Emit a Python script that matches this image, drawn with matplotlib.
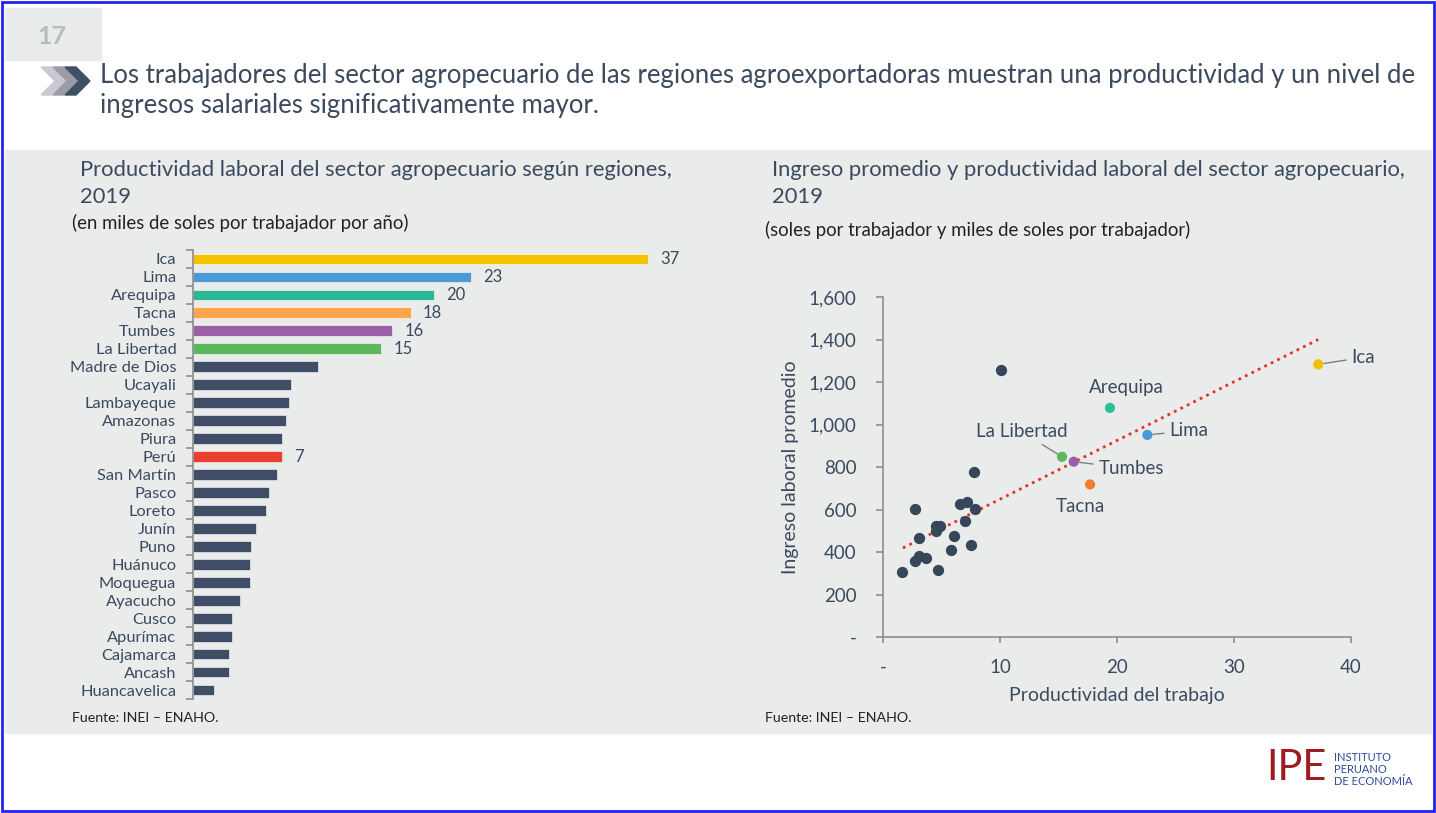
import numpy as np
import matplotlib.pyplot as plt
from matplotlib.patches import Rectangle, Polygon
from matplotlib.ticker import FuncFormatter

plt.rcParams['font.family'] = ['Lato', 'DejaVu Sans']

# --- datos: productividad por region (miles de soles por trabajador) ---
regiones = ['Ica', 'Lima', 'Arequipa', 'Tacna', 'Tumbes', 'La Libertad',
            'Madre de Dios', 'Ucayali', 'Lambayeque', 'Amazonas', 'Piura',
            'Perú', 'San Martín', 'Pasco', 'Loreto', 'Junín', 'Puno',
            'Huánuco', 'Moquegua', 'Ayacucho', 'Cusco', 'Apurímac',
            'Cajamarca', 'Ancash', 'Huancavelica']
productividad = [37.0, 22.6, 19.6, 17.7, 16.2, 15.3, 10.2, 8.0, 7.8, 7.6,
                 7.2, 7.2, 6.8, 6.2, 5.9, 5.1, 4.7, 4.6, 4.6, 3.8, 3.2,
                 3.2, 2.9, 2.9, 1.7]
con_etiqueta = ['Ica', 'Lima', 'Arequipa', 'Tacna', 'Tumbes', 'La Libertad', 'Perú']

# --- datos: ingreso vs productividad ---
dest_nombres = ['Ica', 'Arequipa', 'Lima', 'La Libertad', 'Tumbes', 'Tacna']
dest_prod = [37.2, 19.4, 22.6, 15.3, 16.3, 17.7]
dest_ingreso = [1283, 1078, 951, 848, 825, 718]
otros_prod = [10.1, 7.75, 2.75, 6.6, 7.2, 7.9, 7.05, 4.5, 4.9, 4.5, 6.1,
              3.1, 5.8, 7.5, 3.1, 3.7, 2.75, 1.6, 4.7]
otros_ingreso = [1255, 776, 604, 624, 637, 604, 546, 523, 523, 498, 474,
                 465, 410, 432, 380, 374, 357, 308, 316]
tendencia_x = [1.7, 37.2]
tendencia_y = [419, 1400]

OSCURO = '#3f4e66'
TEXTO = '#3b4a5e'
GRIS = '#8c8c8c'
FONDO = '#e9ecea'
col_region = {'Ica': '#f5c400', 'Lima': '#4c9bd6', 'Arequipa': '#2fb896',
              'Tacna': '#ffa64d', 'Tumbes': '#9b5fa8', 'La Libertad': '#5cb85c',
              'Perú': '#e8402f'}
col_punto = {'Ica': '#f0c000', 'Arequipa': '#2bbf9a', 'Lima': '#4a9ad8',
             'La Libertad': '#5cb85c', 'Tumbes': '#9b5fa8', 'Tacna': '#f08030'}

W, H = 1436, 813
fig = plt.figure(figsize=(W / 100, H / 100), dpi=100)
fig.patch.set_facecolor('white')


def fx(x):
    return x / W


def fy(y):
    return 1 - y / H


# fondo gris y marco
fig.patches.append(Rectangle((fx(5), fy(733)), fx(1426), (733 - 150) / H,
                             transform=fig.transFigure, color=FONDO, zorder=-10))
fig.patches.append(Rectangle((fx(2), fy(811)), fx(1432), 809 / H, transform=fig.transFigure,
                             fill=False, edgecolor='#2323f0', lw=2, zorder=5))
fig.patches.append(Rectangle((fx(5), fy(60)), fx(96), 52 / H,
                             transform=fig.transFigure, color=FONDO, zorder=-10))
fig.text(fx(52), fy(36), '17', fontsize=18, fontweight='bold', color='#b9bcbc',
         ha='center', va='center')

# chevrons
for x0, c in [(41, '#c9c9d1'), (53, '#9c9ca9'), (65, '#3f5064')]:
    pts = [(x0, 67), (x0 + 11, 67), (x0 + 25, 81), (x0 + 11, 95), (x0, 95), (x0 + 14, 81)]
    fig.patches.append(Polygon([(fx(a), fy(b)) for a, b in pts], closed=True,
                               transform=fig.transFigure, color=c, zorder=2))

fig.text(fx(100), fy(75), 'Los trabajadores del sector agropecuario de las regiones agroexportadoras '
         'muestran una productividad y un nivel de', fontsize=18.5, color=TEXTO, va='center')
fig.text(fx(100), fy(105), 'ingresos salariales significativamente mayor.',
         fontsize=18.5, color=TEXTO, va='center')

# titulos de paneles
fig.text(fx(80), fy(170), 'Productividad laboral del sector agropecuario según regiones,',
         fontsize=15.8, color=TEXTO, va='center')
fig.text(fx(80), fy(197), '2019', fontsize=15.8, color=TEXTO, va='center')
fig.text(fx(72), fy(223), '(en miles de soles por trabajador por año)',
         fontsize=13.4, color='#222222', va='center')
fig.text(fx(772), fy(170), 'Ingreso promedio y productividad laboral del sector agropecuario,',
         fontsize=15.8, color=TEXTO, va='center')
fig.text(fx(772), fy(197), '2019', fontsize=15.8, color=TEXTO, va='center')
fig.text(fx(765), fy(230), '(soles por trabajador y miles de soles por trabajador)',
         fontsize=13.4, color='#222222', va='center')
fig.text(fx(72), fy(718), 'Fuente: INEI – ENAHO.', fontsize=10.2, color='#222222', va='center')
fig.text(fx(765), fy(718), 'Fuente: INEI – ENAHO.', fontsize=10.2, color='#222222', va='center')

# --- barras ---
ax1 = fig.add_axes([fx(193), fy(699), (685 - 193) / W, (699 - 250) / H])
ax1.set_facecolor('none')
y = np.arange(len(regiones))
colores = [col_region.get(r, OSCURO) for r in regiones]
ax1.barh(y, productividad, height=0.6, color=colores, edgecolor='white', linewidth=0.4)
for yi, r, v in zip(y, regiones, productividad):
    if r in con_etiqueta:
        ax1.text(v + 1.0, yi, f'{round(v):d}', va='center', ha='left',
                 fontsize=12, color=TEXTO)
ax1.set_xlim(0, 40)
ax1.set_ylim(len(regiones) - 0.5, -0.5)
ax1.set_yticks(y)
ax1.set_yticklabels(regiones, fontsize=11.8, color=TEXTO)
ax1.set_yticks(np.arange(len(regiones) + 1) - 0.5, minor=True)
ax1.tick_params(axis='y', which='major', length=0, pad=12)
ax1.tick_params(axis='y', which='minor', length=5, color=GRIS, width=1.2)
ax1.set_xticks([])
for s in ['top', 'right', 'bottom']:
    ax1.spines[s].set_visible(False)
ax1.spines['left'].set_color(GRIS)
ax1.spines['left'].set_linewidth(1.2)

# --- dispersion ---
ax2 = fig.add_axes([fx(883), fy(637), (1351 - 883) / W, (637 - 297) / H])
ax2.set_facecolor('none')
ax2.plot(tendencia_x, tendencia_y, color='#e8302a', lw=2, linestyle=(0, (1, 1.6)), zorder=2)
ax2.scatter(otros_prod, otros_ingreso, s=66, color='#36475a', zorder=3, linewidths=0)
ax2.scatter(dest_prod, dest_ingreso, s=54, color=[col_punto[n] for n in dest_nombres],
            zorder=4, linewidths=0)

ptx = dict(zip(dest_nombres, zip(dest_prod, dest_ingreso)))
lead = dict(arrowstyle='-', color='#7f7f7f', lw=1, shrinkA=2, shrinkB=4)
# (nombre, offset en puntos, alineacion, con linea)
etiquetas = [('Ica', (24, 5), 'left', True),
             ('Lima', (16, 3), 'left', True),
             ('Arequipa', (12, 15), 'center', False),
             ('La Libertad', (-29, 18), 'center', True),
             ('Tumbes', (18, -5), 'left', True),
             ('Tacna', (-7, -16), 'center', False)]
for n, off, ha, linea in etiquetas:
    ax2.annotate(n, xy=ptx[n], xytext=off, textcoords='offset points', ha=ha, va='center',
                 fontsize=13.5, color=TEXTO, annotation_clip=False,
                 arrowprops=lead if linea else None)

ax2.set_xlim(0, 40)
ax2.set_ylim(0, 1600)
ax2.set_xticks([0, 10, 20, 30, 40])
ax2.set_yticks(np.arange(0, 1601, 200))
ax2.xaxis.set_major_formatter(FuncFormatter(lambda v, p: '-' if v == 0 else f'{v:.0f}'))
ax2.yaxis.set_major_formatter(FuncFormatter(lambda v, p: '-' if v == 0 else f'{v:,.0f}'))
ax2.tick_params(axis='x', length=4, pad=12, labelsize=13.5, labelcolor=TEXTO, color=GRIS, width=1.2)
ax2.tick_params(axis='y', length=5, pad=14, labelsize=13.5, labelcolor=TEXTO, color=GRIS, width=1.2)
for s in ['top', 'right']:
    ax2.spines[s].set_visible(False)
for s in ['left', 'bottom']:
    ax2.spines[s].set_color(GRIS)
    ax2.spines[s].set_linewidth(1.2)
ax2.set_xlabel('Productividad del trabajo', fontsize=14, color=TEXTO, labelpad=8)
ax2.set_ylabel('Ingreso laboral promedio', fontsize=14, color=TEXTO, labelpad=7)

# logo
fig.text(fx(1266), fy(768), 'IPE', fontsize=30, color='#9e1b20',
         va='center', ha='left')
for i, t in enumerate(['INSTITUTO', 'PERUANO', 'DE ECONOMÍA']):
    fig.text(fx(1334), fy(757 + 12 * i), t, fontsize=8, color='#2e4c9a', va='center')

fig.savefig('out.png', dpi=100)
